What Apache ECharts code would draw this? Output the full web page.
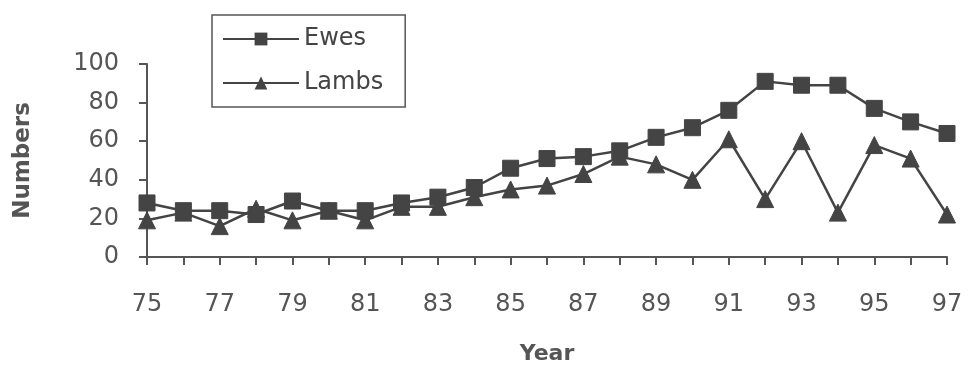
<!DOCTYPE html>
<html>
<head>
<meta charset="utf-8">
<script src="https://cdn.jsdelivr.net/npm/echarts@6/dist/echarts.min.js"></script>
<style>
  html, body { margin: 0; padding: 0; background: #fff; }
  #chart { width: 970px; height: 370px; }
</style>
</head>
<body>
<div id="chart"></div>
<script>
// data
const years = ['75', '76', '77', '78', '79', '80', '81', '82', '83', '84', '85', '86',
  '87', '88', '89', '90', '91', '92', '93', '94', '95', '96', '97']
const ewes = [28, 24, 24, 22, 29, 24, 24, 28, 31, 36, 46, 51, 52, 55, 62, 67, 76, 91, 89, 89, 77, 70, 64]
const lambs = [19, 23, 16, 25, 19, 24, 19, 26, 26, 31, 35, 37, 43, 52, 48, 40, 61, 30, 60, 23, 58, 51, 22]
const yTicks = [0, 20, 40, 60, 80, 100]

const font = 'DejaVu Sans'
const ink = '#444'

const myChart = echarts.init(document.getElementById('chart'))

const option = {
  animation: false,
  backgroundColor: '#fff',
  textStyle: { fontFamily: font },
  grid: { left: 147, right: 23, top: 64, bottom: 108 },
  legend: {
    orient: 'vertical',
    left: 212,
    top: 15,
    padding: [12, 22, 12, 10],
    itemGap: 20,
    itemWidth: 76,
    itemHeight: 16,
    borderColor: '#555',
    borderWidth: 1.5,
    textStyle: { fontSize: 24, color: ink, fontFamily: font },
    data: ['Ewes', 'Lambs']
  },
  xAxis: {
    type: 'category',
    data: years,
    boundaryGap: false,
    name: 'Year',
    nameLocation: 'middle',
    nameGap: 86,
    nameTextStyle: { fontSize: 22, fontWeight: 'bold', color: '#555', fontFamily: font },
    axisLine: { lineStyle: { color: '#555', width: 2 } },
    axisTick: { show: true, interval: 0, length: 8, lineStyle: { color: '#555', width: 2 } },
    axisLabel: { interval: 1, fontSize: 24, color: '#555', margin: 36, fontFamily: font },
    splitLine: { show: false }
  },
  yAxis: {
    type: 'value',
    min: 0,
    max: 100,
    interval: 20,
    name: 'Numbers',
    nameLocation: 'middle',
    nameGap: 112,
    nameRotate: 90,
    nameTextStyle: { fontSize: 23, fontWeight: 'bold', color: '#555', fontFamily: font },
    axisLine: { show: true, lineStyle: { color: '#555', width: 2 } },
    axisTick: { show: true, length: 8, lineStyle: { color: '#555', width: 2 } },
    axisLabel: {
      fontSize: 24, color: '#555', margin: 28, fontFamily: font,
      formatter: v => (yTicks.includes(v) ? String(v) : '')
    },
    splitLine: { show: false }
  },
  series: [
    {
      name: 'Ewes',
      type: 'line',
      data: ewes,
      symbol: 'rect',
      symbolSize: 16,
      lineStyle: { color: ink, width: 2.5 },
      itemStyle: { color: ink, borderColor: ink }
    },
    {
      name: 'Lambs',
      type: 'line',
      data: lambs,
      symbol: 'triangle',
      symbolSize: 17,
      lineStyle: { color: ink, width: 2.5 },
      itemStyle: { color: ink, borderColor: ink }
    }
  ]
}

myChart.setOption(option)
</script>
</body>
</html>
